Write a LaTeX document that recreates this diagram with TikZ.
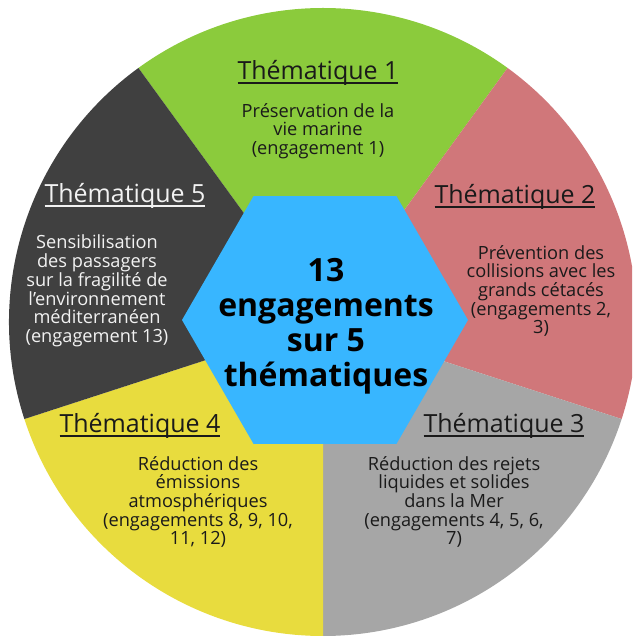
\documentclass[tikz,border=0pt]{standalone}
\usepackage{fontspec}
\setmainfont{Open Sans}
\usetikzlibrary{positioning,shapes.geometric}

\definecolor{secgreen}{HTML}{8BCB3C}
\definecolor{secpink}{HTML}{D0777A}
\definecolor{secgray}{HTML}{A6A6A6}
\definecolor{secyellow}{HTML}{E8DC3E}
\definecolor{secdark}{HTML}{404040}
\definecolor{hexblue}{HTML}{38B6FF}
\definecolor{inkdark}{HTML}{1A1A1A}
\definecolor{inklight}{HTML}{F2F2F2}

% underlined heading (rule under the baseline)
\newcommand{\thul}[1]{\setbox0=\hbox{#1}\rlap{\rule[-4pt]{\wd0}{1.6pt}}\box0}

\begin{document}
\begin{tikzpicture}[
  x=1pt, y=1pt,
  title/.style={font=\fontsize{25}{30}\selectfont, text=inkdark, inner sep=0pt},
  body/.style={font=\fontsize{18.2}{18.7}\selectfont, align=center, text=inkdark, inner sep=0pt},
  hex/.style={regular polygon, regular polygon sides=6, minimum size=286pt,
              inner sep=0pt, outer sep=0pt, fill=hexblue}
]

% -----------------------
% Layout parameters
% -----------------------
\def\cx{323}
\def\cy{318}
\def\rr{314}

\useasboundingbox (0,0) rectangle (632,640);
\clip (0,0) rectangle (632,640);

\coordinate (c) at (\cx,\cy);

% -----------------------
% Sectors (5 x 72 deg)
% -----------------------
\fill[secgreen]  (c) -- ++(54:\rr pt)  arc[start angle=54,  end angle=126, radius=\rr pt] -- cycle;
\fill[secpink]   (c) -- ++(-18:\rr pt) arc[start angle=-18, end angle=54,  radius=\rr pt] -- cycle;
\fill[secgray]   (c) -- ++(-90:\rr pt) arc[start angle=-90, end angle=-18, radius=\rr pt] -- cycle;
\fill[secyellow] (c) -- ++(198:\rr pt) arc[start angle=198, end angle=270, radius=\rr pt] -- cycle;
\fill[secdark]   (c) -- ++(126:\rr pt) arc[start angle=126, end angle=198, radius=\rr pt] -- cycle;

% -----------------------
% Centre hexagon
% -----------------------
\node[hex] (hx) at (325,320) {};
\node[font=\bfseries\fontsize{32}{35}\selectfont, align=center, text=black] (ctr) at (326,314)
  {13\\engagements\\sur 5\\thématiques};

% -----------------------
% Thematic 1 (top)
% -----------------------
\node[title] (t1) at (318,567) {\thul{Thématique 1}};
\node[body]  (b1) at (318,509) {Préservation de la\\vie marine\\(engagement 1)};

% Thematic 2 (right)
\node[title] (t2) at (515,443) {\thul{Thématique 2}};
\node[body]  (b2) at (541,349) {Prévention des\\collisions avec les\\grands cétacés\\(engagements 2,\\3)};

% Thematic 3 (bottom right)
\node[title] (t3) at (504,214) {\thul{Thématique 3}};
\node[body]  (b3) at (454,138) {Réduction des rejets\\liquides et solides\\dans la Mer\\(engagements 4, 5, 6,\\7)};

% Thematic 4 (bottom left)
\node[title] (t4) at (140,214) {\thul{Thématique 4}};
\node[body]  (b4) at (198,138) {Réduction des\\émissions\\atmosphériques\\(engagements 8, 9, 10,\\11, 12)};

% Thematic 5 (left)
\node[title, text=inklight] (t5) at (125,444) {\thul{Thématique 5}};
\node[body, text=inklight]  (b5) at (97,349) {Sensibilisation\\des passagers\\sur la fragilité de\\l’environnement\\méditerranéen\\(engagement 13)};

\end{tikzpicture}
\end{document}
